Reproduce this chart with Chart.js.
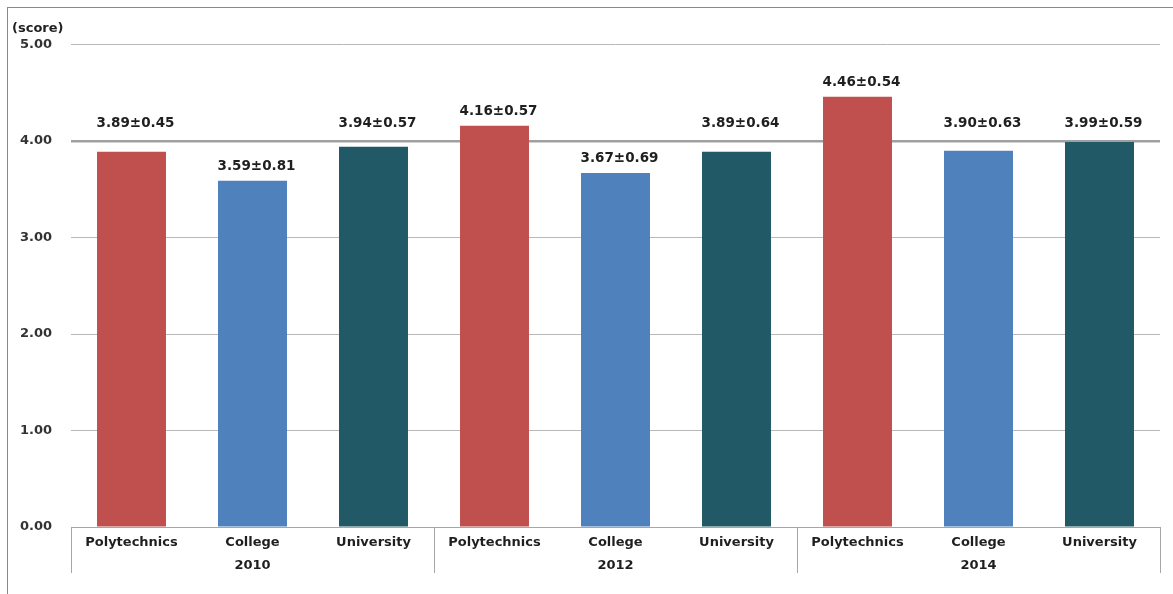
<!DOCTYPE html>
<html>
<head>
<meta charset="utf-8">
<script src="https://cdn.jsdelivr.net/npm/chart.js@4"></script>
<style>
  body { margin: 0; background: #fff; }
  #wrap { position: absolute; left: 0; top: 0; width: 1173px; height: 594px; }
  #frame { position: absolute; left: 7px; top: 7px; width: 1166px; height: 587px;
           border-top: 1px solid #8a8a8a; border-left: 1px solid #8a8a8a; pointer-events: none; }
</style>
</head>
<body>
<div id="wrap"><canvas id="chart" width="1173" height="594"></canvas></div>
<div id="frame"></div>
<script>
const years = ['2010', '2012', '2014'];
const types = ['Polytechnics', 'College', 'University'];
const means = [3.89, 3.59, 3.94, 4.16, 3.67, 3.89, 4.46, 3.90, 3.99];
const sds = [0.45, 0.81, 0.57, 0.57, 0.69, 0.64, 0.54, 0.63, 0.59];
const typeColors = ['#C0504D', '#4F81BD', '#215967'];

// two-line labels: school type on top, year under the middle bar of each group
const labels = [];
const colors = [];
years.forEach(function(yr) {
    types.forEach(function(t, j) {
        labels.push([t, j === 1 ? yr : '']);
        colors.push(typeColors[j]);
    });
});

Chart.defaults.font.family = '"DejaVu Sans", Verdana, sans-serif';

const valueLabels = {
    id: 'valueLabels',
    afterDatasetsDraw(chart) {
        const c = chart.ctx;
        const y = chart.scales.y;
        const line4 = y.getPixelForValue(4);
        const meta = chart.getDatasetMeta(0);
        c.save();
        c.font = 'bold 13.5px "DejaVu Sans"';
        c.fillStyle = '#1f1f1f';
        c.textAlign = 'center';
        c.textBaseline = 'middle';
        meta.data.forEach(function(bar, i) {
            let ly = bar.y - 14;
            // keep labels of bars just under the 4.00 line above that line
            if (ly > line4 - 18 && bar.y < line4 + 20) ly = line4 - 18;
            c.fillText(means[i].toFixed(2) + '±' + sds[i].toFixed(2), bar.x + 4, ly);
        });
        c.restore();
    }
};

const canvas = document.getElementById('chart');
new Chart(canvas, {
    type: 'bar',
    data: {
        labels: labels,
        datasets: [{
            data: means,
            backgroundColor: colors,
            borderWidth: 0,
            categoryPercentage: 1,
            barPercentage: 0.57
        }]
    },
    options: {
        responsive: false,
        animation: false,
        layout: { padding: { left: 12, right: 13, top: 0, bottom: 0 } },
        plugins: {
            legend: { display: false },
            tooltip: { enabled: false },
            title: {
                display: true,
                text: '(score)',
                align: 'start',
                color: '#1f1f1f',
                font: { size: 13, weight: 'bold' },
                padding: { top: 21, bottom: 8 }
            }
        },
        scales: {
            x: {
                border: { display: true, color: '#a6a6a6' },
                grid: {
                    drawOnChartArea: false,
                    drawTicks: true,
                    tickLength: 46,
                    tickColor: function(ctx) {
                        return (ctx.index === undefined || ctx.index % 3 === 0) ? '#a6a6a6' : 'rgba(0,0,0,0)';
                    }
                },
                ticks: {
                    padding: -41,
                    color: '#1f1f1f',
                    autoSkip: false,
                    maxRotation: 0,
                    font: { size: 13, weight: 'bold', lineHeight: 1.7 }
                },
                afterFit: function(scale) { scale.height = 67; }
            },
            y: {
                min: 0,
                max: 5,
                border: { display: false },
                grid: {
                    drawTicks: false,
                    color: function(ctx) { return ctx.tick && ctx.tick.value === 4 ? '#a0a0a0' : '#b8b8b8'; },
                    lineWidth: function(ctx) { return ctx.tick && ctx.tick.value === 4 ? 2.5 : 1; }
                },
                ticks: {
                    stepSize: 1,
                    padding: 19,
                    color: '#333',
                    font: { size: 13, weight: 'bold' },
                    callback: function(v) { return v.toFixed(2); }
                },
                afterFit: function(scale) { scale.width = 59; }
            }
        }
    },
    plugins: [valueLabels]
});
</script>
</body>
</html>
